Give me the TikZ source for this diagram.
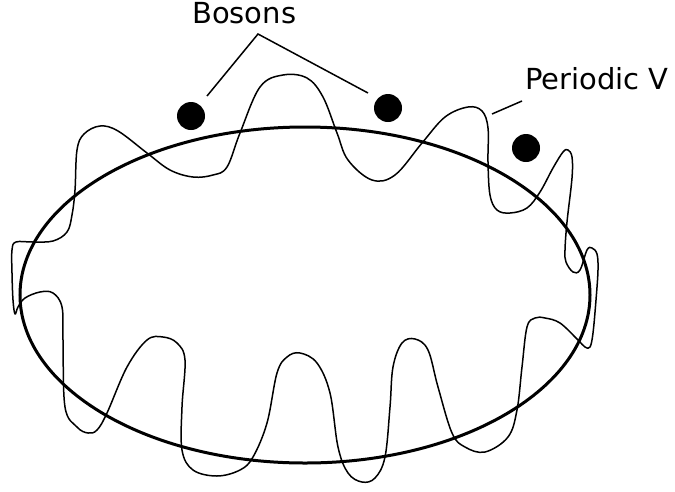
\documentclass[tikz,border=0pt]{standalone}
\usepackage{fontspec}
\setmainfont{DejaVu Sans}
\begin{document}
\begin{tikzpicture}[x=1pt,y=-1pt,
  lbl/.style={font=\fontsize{29}{34}\selectfont, inner sep=0pt, anchor=base west},
  boson/.style={circle, fill=black, minimum size=28pt, inner sep=0pt},
  leader/.style={line width=1.5pt},
  wave/.style={line width=1.5pt},
  ring/.style={line width=3pt}]
\useasboundingbox (0,0) rectangle (675,491);
\node[lbl] (bos) at (192,23) {Bosons};
\node[lbl] (per) at (525,89) {Periodic V};
\node[boson] (b1) at (191,116) {};
\node[boson] (b2) at (388,108) {};
\node[boson] (b3) at (526,148) {};
\coordinate (apex) at (258,34);
\coordinate (l1) at (207,96);
\coordinate (l2) at (368,93);
\coordinate (p1) at (522,101);
\coordinate (p2) at (492,114);
\draw[leader] (l1) -- (apex) -- (l2);
\draw[leader] (p1) -- (p2);
\draw[ring] (305,295) ellipse [x radius=285, y radius=168];
\draw[wave, line join=round] plot[smooth cycle, tension=0.6] coordinates {
(15,314) (13,300) (12,273) (12,250) (16,242) (33,242) (53,241) (67,232) (72,215) (75,190) (77,150) (84,134)
(100,126) (118,131) (147,153) (170,170) (193,177) (213,175) (227,167) (240,133) (260,87) (283,75)
(307,78) (323,97) (337,133) (348,160) (372,180) (395,175) (422,143) (445,117) (468,107) (482,111)
(488,128) (488,162) (490,195) (497,210) (510,213) (527,208) (540,192) (553,168) (563,152) (568,150)
(572,157) (572,178) (567,222) (565,250) (566,262) (573,272) (580,270) (587,250) (592,248) (597,254)
(598,270) (596,300) (593,333) (590,347) (585,347) (578,340) (560,323) (545,318) (535,318) (527,327)
(522,367) (517,410) (508,437) (485,452) (465,447) (452,433) (438,387) (428,350) (415,339) (402,343)
(393,367) (390,407) (385,457) (375,478) (362,482) (348,473) (338,447) (330,393) (317,363) (300,353)
(287,357) (277,373) (267,423) (253,457) (240,470) (217,476) (193,470) (182,450) (182,407) (185,360)
(177,343) (163,337) (147,340) (127,367) (107,413) (97,430) (88,433) (77,427) (65,407) (63,340)
(62,307) (53,293) (40,292) (25,298) (18,307)
};
\end{tikzpicture}
\end{document}
